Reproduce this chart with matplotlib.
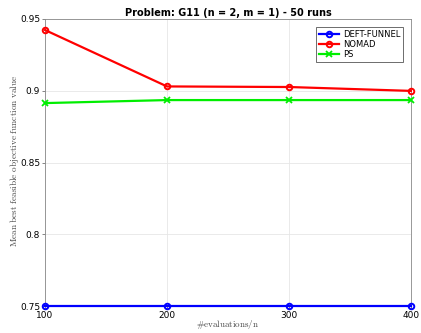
import matplotlib
matplotlib.use("Agg")
import matplotlib.pyplot as plt

plt.rcParams['mathtext.fontset'] = 'cm'

evals = [100, 200, 300, 400]
deft_funnel = [0.750, 0.750, 0.750, 0.750]
nomad = [0.9423, 0.9030, 0.9026, 0.8999]
ps = [0.8914, 0.8935, 0.8935, 0.8935]

fig = plt.figure(figsize=(4.21, 3.33), dpi=100)
ax = fig.add_axes([0.107, 0.081, 0.869, 0.862])

ax.plot(evals, deft_funnel, color='#0000ff', lw=1.6, marker='o', ms=4,
        mfc='none', mew=1.4, label='DEFT-FUNNEL', clip_on=False, zorder=5)
ax.plot(evals, nomad, color='#ff0000', lw=1.6, marker='o', ms=4,
        mfc='none', mew=1.4, label='NOMAD', clip_on=False, zorder=4)
ax.plot(evals, ps, color='#00ee00', lw=1.6, marker='x', ms=4,
        mew=1.3, label='PS', clip_on=False, zorder=3)

ax.set_xlim(100, 400)
ax.set_ylim(0.75, 0.95)
ax.set_xticks(evals)
ax.set_yticks([0.75, 0.8, 0.85, 0.9, 0.95])
ax.set_yticklabels(['0.75', '0.8', '0.85', '0.9', '0.95'])
ax.grid(True, color='#e6e6e6', lw=0.6)
ax.set_axisbelow(True)
ax.tick_params(labelsize=6.5, length=2, width=0.5, color='#555555', pad=1.5)
for s in ax.spines.values():
    s.set_color('#888888')
    s.set_linewidth(0.6)

ax.set_title('Problem: G11 (n = 2, m = 1) - 50 runs', fontsize=7, fontweight='bold', pad=2)
ax.set_xlabel(r'$\#\mathrm{evaluations/n}$', fontsize=6.5, color='#444444')
ax.set_ylabel(r'$\mathrm{Mean\ best\ feasible\ objective\ function\ value}$',
              fontsize=6.6, color='#444444')
ax.xaxis.set_label_coords(0.5, -0.04)
ax.yaxis.set_label_coords(-0.067, 0.505)

leg = ax.legend(loc='upper right', fontsize=6, fancybox=False, framealpha=1,
                edgecolor='#555555', borderpad=0.3, labelspacing=0.15,
                handlelength=2.5, handletextpad=0.4, borderaxespad=1.0)
leg.get_frame().set_linewidth(0.6)

fig.savefig('out.png', dpi=100)
